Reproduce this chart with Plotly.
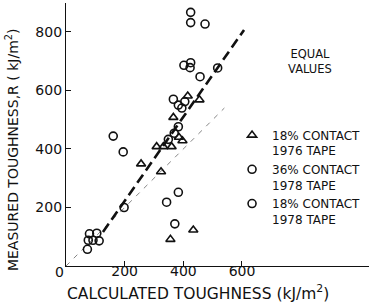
import plotly.graph_objects as go

# 18% contact, 1976 tape (triangles)
tri_x = [309, 332, 360, 385, 397, 366, 415, 455, 256, 324, 356, 434]
tri_y = [408, 408, 408, 440, 428, 508, 581, 568, 349, 322, 91, 123]

# 36% contact, 1978 tape (circles)
c36_x = [425, 425, 474, 402, 425, 423, 457, 517, 366, 383, 405, 395, 161, 195]
c36_y = [867, 832, 827, 686, 695, 678, 647, 677, 570, 550, 562, 540, 444, 390]

# 18% contact, 1978 tape (circles)
c18_x = [369, 383, 349, 198, 343, 383, 371, 80, 105, 76, 92, 113, 73]
c18_y = [454, 476, 433, 200, 218, 252, 144, 110, 112, 88, 88, 86, 57]

# fitted trend line and equal-values line
fit_x = [126, 607]
fit_y = [116, 807]
eq_x = [0, 540]
eq_y = [0, 540]

x_ticks = [200, 400, 600]
y_ticks = [200, 400, 600, 800]

FONT = "DejaVu Sans"
INK = "#111111"

fig = go.Figure()
fig.add_trace(go.Scatter(x=eq_x, y=eq_y, mode="lines", showlegend=False,
                         line=dict(color="#666666", width=0.8, dash="5px,6px")))
fig.add_trace(go.Scatter(x=fit_x, y=fit_y, mode="lines", showlegend=False,
                         line=dict(color=INK, width=2.6, dash="10px,5px")))
fig.add_trace(go.Scatter(x=tri_x, y=tri_y, mode="markers",
                         name="18% CONTACT<br>1976 TAPE",
                         marker=dict(symbol="triangle-up-open", size=8, color=INK,
                                     line=dict(width=1.6, color=INK))))
fig.add_trace(go.Scatter(x=c36_x, y=c36_y, mode="markers",
                         name="36% CONTACT<br>1978 TAPE",
                         marker=dict(symbol="circle-open", size=8, color=INK,
                                     line=dict(width=1.6, color=INK))))
fig.add_trace(go.Scatter(x=c18_x, y=c18_y, mode="markers",
                         name="18% CONTACT<br>1978 TAPE",
                         marker=dict(symbol="circle-open", size=8, color=INK,
                                     line=dict(width=1.6, color=INK))))

axis_common = dict(showgrid=False, zeroline=False, showline=True, linecolor=INK,
                   linewidth=1.2, ticks="inside", ticklen=5, tickcolor=INK,
                   tickwidth=1.2, tickfont=dict(family=FONT, size=14, color=INK))

fig.update_layout(
    width=369, height=304,
    margin=dict(l=66, r=0, t=3, b=38, autoexpand=False),
    paper_bgcolor="white", plot_bgcolor="white",
    font=dict(family=FONT, color=INK),
    xaxis=dict(range=[0, 1033], tickvals=x_ticks, ticklabelstandoff=-8,
               **axis_common),
    yaxis=dict(range=[0, 899], tickvals=y_ticks, **axis_common),
    legend=dict(x=0.548, y=0.552, xanchor="left", yanchor="top", valign="top",
                bgcolor="rgba(0,0,0,0)", font=dict(family=FONT, size=12, color=INK),
                itemwidth=30, tracegroupgap=0),
    annotations=[
        dict(text="0", x=-0.02, y=-0.023, xref="paper", yref="paper", showarrow=False,
             xanchor="center", yanchor="middle",
             font=dict(family=FONT, size=14, color=INK)),
        dict(text="CALCULATED TOUGHNESS (kJ/m<sup>2</sup>)", x=0.436, y=-0.099,
             xref="paper", yref="paper", showarrow=False, xanchor="center",
             yanchor="middle", font=dict(family=FONT, size=15.5, color=INK)),
        dict(text="MEASURED TOUGHNESS,R ( kJ/m<sup>2</sup>)", x=-0.178, y=0.441,
             xref="paper", yref="paper", showarrow=False, textangle=-90,
             xanchor="center", yanchor="middle",
             font=dict(family=FONT, size=14, color=INK)),
        dict(text="EQUAL<br>VALUES", x=0.805, y=0.776, xref="paper", yref="paper",
             showarrow=False, xanchor="center", yanchor="middle", align="center",
             font=dict(family=FONT, size=11.5, color=INK)),
    ],
)

fig.write_html("out.html", post_script="document.body.style.margin='0';",
               config={"displayModeBar": False})
